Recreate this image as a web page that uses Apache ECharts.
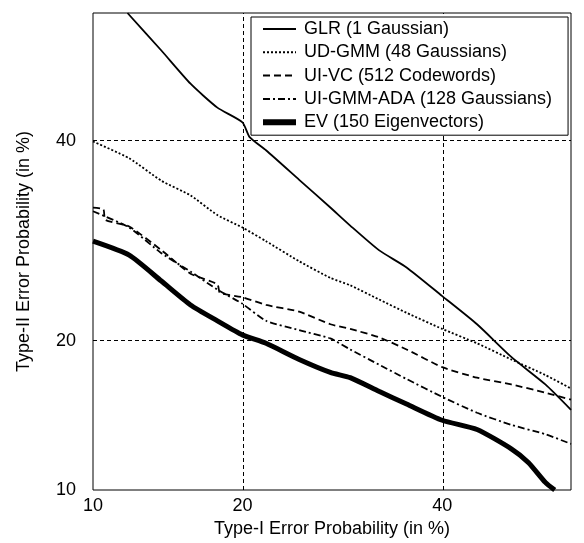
<!DOCTYPE html>
<html>
<head>
<meta charset="utf-8">
<script src="https://cdn.jsdelivr.net/npm/echarts@6/dist/echarts.min.js"></script>
<style>
  html, body { margin: 0; padding: 0; background: #fff; }
  #chart { width: 584px; height: 543px; }
</style>
</head>
<body>
<div id="chart"></div>
<script>
// tick labels (in %), both axes use a normal-deviate (DET) scale
var xTicks = [10, 20, 40];
var yTicks = [10, 20, 40];
var axisMin = 10, axisMax = 55;

// curves: [Type-I %, Type-II %]
var glr = [[11.9, 55], [14, 50.6], [16, 46.7], [18, 43.9], [20, 42.2], [20.6, 40.5], [22, 39.0], [25, 35.7],
    [28, 32.7], [30, 30.8], [33, 28.3], [36, 26.6], [40, 23.9], [44, 21.4], [48, 18.7], [52, 16.6], [55, 14.8]];
var udgmm = [[10, 40], [12, 38.1], [14, 35.6], [16, 34.0], [18, 31.9], [20, 30.6], [22, 29.2], [25, 27.2],
    [28, 25.6], [30, 24.9], [33, 23.6], [36, 22.4], [40, 21.0], [44, 19.8], [48, 18.5], [52, 17.3], [55, 16.3]];
var uivc = [[10, 32.7], [10.55, 32.5], [10.65, 31.4], [12, 30.7], [14, 28.3], [16, 26.0], [18, 25.0], [18.2, 24.2],
    [20, 23.8], [22, 23.1], [25, 22.5], [28, 21.4], [30, 21.0], [33, 20.3], [36, 19.3], [40, 17.9], [44, 17.1],
    [48, 16.6], [52, 16.0], [55, 15.5]];
var uigmm = [[10, 32.3], [12, 30.6], [14, 28.0], [16, 26.2], [18, 24.5], [20, 23.2], [22, 21.7], [25, 20.9],
    [28, 20.2], [30, 19.3], [33, 18.1], [36, 17.0], [40, 15.7], [44, 14.6], [48, 13.8], [52, 13.2], [55, 12.6]];
var ev = [[10, 29.2], [12, 27.8], [14, 25.3], [16, 23.1], [18, 21.7], [20, 20.5], [22, 19.8], [25, 18.5],
    [28, 17.5], [30, 17.1], [33, 16.1], [36, 15.2], [40, 14.1], [44, 13.5], [48, 12.3], [50, 11.5], [52, 10.4], [53.1, 10]];

var names = ['GLR (1 Gaussian)', 'UD-GMM (48 Gaussians)', 'UI-VC (512 Codewords)',
    'UI-GMM-ADA (128 Gaussians)', 'EV (150 Eigenvectors)'];

// inverse of the standard normal cdf (Acklam)
function probit(p) {
    var a = [-3.969683028665376e+01, 2.209460984245205e+02, -2.759285104469687e+02, 1.383577518672690e+02, -3.066479806614716e+01, 2.506628277459239e+00];
    var b = [-5.447609879822406e+01, 1.615858368580409e+02, -1.556989798598866e+02, 6.680131188771972e+01, -1.328068155288572e+01];
    var c = [-7.784894002430293e-03, -3.223964580411365e-01, -2.400758277161838e+00, -2.549732539343734e+00, 4.374664141464968e+00, 2.938163982698783e+00];
    var d = [7.784695709041462e-03, 3.224671290700398e-01, 2.445134137142996e+00, 3.754408661907416e+00];
    var pl = 0.02425, q, r;
    if (p < pl) {
        q = Math.sqrt(-2 * Math.log(p));
        return (((((c[0] * q + c[1]) * q + c[2]) * q + c[3]) * q + c[4]) * q + c[5]) / ((((d[0] * q + d[1]) * q + d[2]) * q + d[3]) * q + 1);
    }
    if (p > 1 - pl) return -probit(1 - p);
    q = p - 0.5;
    r = q * q;
    return (((((a[0] * r + a[1]) * r + a[2]) * r + a[3]) * r + a[4]) * r + a[5]) * q /
        (((((b[0] * r + b[1]) * r + b[2]) * r + b[3]) * r + b[4]) * r + 1);
}
function pr(v) { return probit(v / 100); }
function toDet(arr) {
    return arr.map(function (d) { return [pr(d[0]), pr(d[1])]; });
}
function tickFormatter(ticks) {
    return function (v) {
        for (var i = 0; i < ticks.length; i++) {
            if (Math.abs(pr(ticks[i]) - v) < 1e-6) return String(ticks[i]);
        }
        return '';
    };
}

var font = 'Liberation Sans, Arial, sans-serif';
var gridLine = { type: [4, 3], color: '#000', width: 1 };
var widths = [1.8, 1.8, 1.8, 1.8, 5];
var dashes = ['solid', [2, 2], [7, 4], [7, 3, 2, 3], 'solid'];

function lineSeries(i, data) {
    return {
        name: names[i],
        type: 'line',
        data: toDet(data),
        symbol: 'none',
        smooth: 0.2,
        lineStyle: { color: '#000', width: widths[i], type: dashes[i] },
        itemStyle: { color: '#000' },
        z: 3
    };
}

var series = [
    lineSeries(0, glr),
    lineSeries(1, udgmm),
    lineSeries(2, uivc),
    lineSeries(3, uigmm),
    lineSeries(4, ev)
];
// dashed grid through the labelled ticks
series[0].markLine = {
    silent: true,
    symbol: 'none',
    label: { show: false },
    lineStyle: gridLine,
    z: 1,
    data: xTicks.slice(1).map(function (t) { return { xAxis: pr(t) }; })
        .concat(yTicks.slice(1).map(function (t) { return { yAxis: pr(t) }; }))
};

var option = {
    animation: false,
    backgroundColor: '#fff',
    grid: {
        left: 93, top: 13, right: 13, bottom: 53,
        show: true, borderColor: '#000', borderWidth: 1, backgroundColor: 'transparent'
    },
    legend: {
        orient: 'vertical',
        left: 251,
        top: 17,
        data: names.map(function (n, i) {
            return { name: n, lineStyle: { width: widths[i] + (i === 4 ? 1 : 0.2), type: dashes[i], color: '#000' } };
        }),
        itemWidth: 33,
        itemHeight: 14,
        itemGap: 3.3,
        padding: [2, 16, 3, 9],
        backgroundColor: '#fff',
        borderColor: '#000',
        borderWidth: 1,
        itemStyle: { opacity: 0 },
        textStyle: { fontFamily: font, fontSize: 18, color: '#000', lineHeight: 20, padding: [0, 0, 0, 3] },
        z: 10
    },
    xAxis: {
        type: 'value',
        min: pr(axisMin),
        max: pr(axisMax),
        name: 'Type-I Error Probability (in %)',
        nameLocation: 'middle',
        nameGap: 29,
        nameTextStyle: { fontFamily: font, fontSize: 18, color: '#000' },
        axisLine: { show: false },
        axisTick: { show: false },
        splitLine: { show: false },
        axisLabel: {
            customValues: xTicks.map(pr),
            formatter: tickFormatter(xTicks),
            fontFamily: font, fontSize: 18, color: '#000', margin: 7
        }
    },
    yAxis: {
        type: 'value',
        min: pr(axisMin),
        max: pr(axisMax),
        name: 'Type-II Error Probability (in %)',
        nameLocation: 'middle',
        nameGap: 60,
        nameTextStyle: { fontFamily: font, fontSize: 18, color: '#000' },
        axisLine: { show: false },
        axisTick: { show: false },
        splitLine: { show: false },
        axisLabel: {
            customValues: yTicks.map(pr),
            formatter: tickFormatter(yTicks),
            fontFamily: font, fontSize: 18, color: '#000', margin: 17
        }
    },
    series: series
};

var chart = echarts.init(document.getElementById('chart'));
chart.setOption(option);
</script>
</body>
</html>
